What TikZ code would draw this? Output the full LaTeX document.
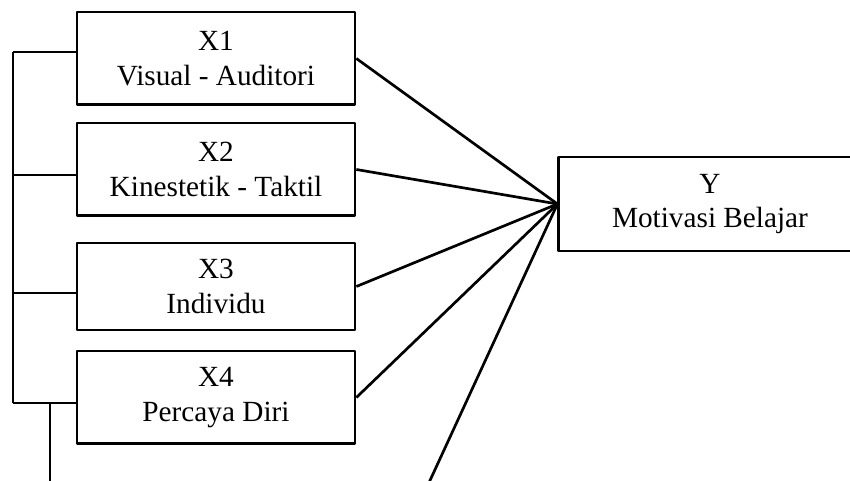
\documentclass[tikz,border=0pt]{standalone}
\usepackage{fontspec}
\setmainfont{Liberation Serif}
\usetikzlibrary{positioning, calc}

\begin{document}
\begin{tikzpicture}[x=0.41pt, y=-0.41pt, line join=round, line width=1.1pt,
    varbox/.style={draw, rectangle, align=center, inner sep=0pt,
      minimum width=114pt, minimum height=38pt,
      font=\fontsize{12}{14}\selectfont}]
      \useasboundingbox (0,0) rectangle (850,481);
      \clip (0,0) rectangle (850,481);
      % variable boxes
      \node[varbox] (X1) at (216,58.5) {X1\\Visual - Auditori};
      \node[varbox] (X2) at (216,169.5) {X2\\Kinestetik - Taktil};
      \node[varbox, minimum height=35.7pt] (X3) at (216,286.5) {X3\\Individu};
      \node[varbox] (X4) at (216,397.5) {X4\\Percaya Diri};
      \node[varbox, minimum width=124pt, minimum height=38.5pt] (Y) at (710,204) {Y\\Motivasi Belajar};
      % left bus
      \coordinate (B1) at (13,52);
      \coordinate (B2) at (13,175);
      \coordinate (B3) at (13,293);
      \coordinate (B4) at (13,403);
      \coordinate (S) at (50,403);
      \coordinate (SEnd) at (50,500);
      \coordinate (Cut) at (421,500);
      \draw (B1) -- (B4);
      \draw (B1) -- (B1 -| X1.west);
      \draw (B2) -- (B2 -| X2.west);
      \draw (B3) -- (B3 -| X3.west);
      \draw (B4) -- (B4 -| X4.west);
      \draw (S) -- (SEnd);
      % links to Y
      \draw (X1.east) -- (Y.west);
      \draw (X2.east) -- (Y.west);
      \draw (X3.east) -- (Y.west);
      \draw (X4.east) -- (Y.west);
      \draw (Cut) -- (Y.west);
    \end{tikzpicture}
\end{document}
